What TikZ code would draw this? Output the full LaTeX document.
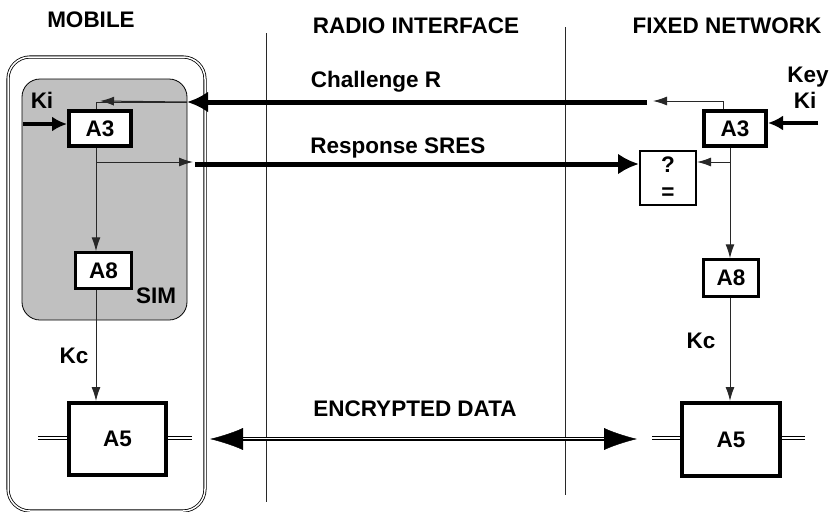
\documentclass[tikz,border=0pt]{standalone}
\usepackage{fontspec}
\setmainfont{Liberation Sans}
\usetikzlibrary{arrows.meta}
\definecolor{simgray}{RGB}{192,192,192}
\definecolor{linegray}{RGB}{40,40,40}

\begin{document}
\begin{tikzpicture}[x=1pt,y=-1pt,
	every node/.style={font=\fontsize{22.5}{27}\selectfont\bfseries},
	label text/.style={anchor=base},
	thickbox/.style={draw,line width=4pt,fill=white,inner sep=0pt},
	thinbox/.style={draw,line width=2.5pt,fill=white,inner sep=0pt},
	thin line/.style={line width=1pt,draw=linegray},
	thin arrow/.style={thin line,-{Latex[length=14pt,width=9pt]}},
	key arrow/.style={line width=4pt,-{Latex[length=15pt,width=15pt]}},
	big arrow/.style={line width=5pt,-{Latex[length=21pt,width=21pt]}},
	data line/.style={double,double distance=2pt,line width=1.2pt},
	data tips/.style={line width=0.4pt,{Latex[length=33pt,width=22pt]}-{Latex[length=33pt,width=22pt]}}]
	\useasboundingbox (0,0) rectangle (831,512);

	% the mobile frame, the SIM and the two interface lines
	\draw[double,double distance=1.5pt,line width=0.8pt,rounded corners=22pt] (8,57) rectangle (205,511);
	\draw[fill=simgray,line width=0.8pt,rounded corners=18pt] (22,79) rectangle (187,320);
	\draw[thin line] (266,33) -- (266,502);
	\draw[thin line] (565,27) -- (565,495);

	% the headings
	\node[label text] at (91,27) {MOBILE};
	\node[label text] at (416,33) {RADIO INTERFACE};
	\node[label text] at (727,33) {FIXED NETWORK};

	% the blocks
	\node[thickbox,minimum width=62pt,minimum height=35pt] (a3L) at (100,128.5) {A3};
	\node[thinbox,minimum width=56pt,minimum height=36pt] (a8L) at (103.5,270.5) {A8};
	\node[thickbox,minimum width=97pt,minimum height=72pt] (a5L) at (117.5,439) {A5};
	\node[thickbox,minimum width=62pt,minimum height=35pt] (a3R) at (735,128.5) {A3};
	\node[thinbox,line width=2pt,minimum width=56pt,minimum height=54pt,align=center] (cmp) at (668,178) {?\\=};
	\node[thinbox,minimum width=55pt,minimum height=37pt] (a8R) at (731,278) {A8};
	\node[thickbox,minimum width=98pt,minimum height=73pt] (a5R) at (731,439.5) {A5};

	% the free ends
	\coordinate (trunkL) at (96,0);
	\coordinate (trunkR) at (730,0);
	\coordinate (kiL) at (23,124);
	\coordinate (kiR) at (818,123);
	\coordinate (chL) at (187,102);
	\coordinate (chR) at (647,102);
	\coordinate (chtipL) at (100,101);
	\coordinate (chtipR) at (653,101);
	\coordinate (rsL) at (193,162);
	\coordinate (rsS) at (195,164);
	\coordinate (datL) at (210,439);
	\coordinate (datR) at (637,439);
	\coordinate (s1) at (38,438);
	\coordinate (s2) at (192,438);
	\coordinate (s3) at (652,438);
	\coordinate (s4) at (805,438);

	% the keys
	\draw[key arrow] (kiL) -- (kiL -| a3L.west);
	\draw[key arrow] (kiR) -- (kiR -| a3R.east);
	\node[label text] at (42,108) {Ki};
	\node[label text] at (808,82) {Key};
	\node[label text] at (805,108) {Ki};

	% the challenge
	\draw[big arrow] (chR) -- (chL);
	\draw[thin arrow] ([xshift=-12pt]a3R.north) |- (chtipR);
	\draw[thin line] (chL) -| ([xshift=-4pt]a3L.north);
	\draw[thin arrow] (chL) -- (chtipL);
	\node[label text] at (376,87) {Challenge R};

	% the response
	\draw[thin arrow] (trunkL |- rsL) -- (rsL);
	\draw[big arrow] (rsS) -- (rsS -| cmp.west);
	\draw[thin arrow] (trunkR |- rsL) -- (rsL -| cmp.east);
	\node[label text] at (398,153) {Response SRES};

	% the key chains
	\draw[thin arrow] (a3L.south -| trunkL) -- (a8L.north -| trunkL);
	\draw[thin arrow] (a8L.south -| trunkL) -- (a5L.north -| trunkL);
	\draw[thin arrow] (a3R.south -| trunkR) -- (a8R.north -| trunkR);
	\draw[thin arrow] (a8R.south -| trunkR) -- (a5R.north -| trunkR);
	\node[label text] at (156,303) {SIM};
	\node[label text] at (74,363) {Kc};
	\node[label text] at (701,348) {Kc};

	% the encrypted data
	\draw[data line] (s1) -- (s1 -| a5L.west);
	\draw[data line] (s2) -- (s2 -| a5L.east);
	\draw[data line] (s3) -- (s3 -| a5R.west);
	\draw[data line] (s4) -- (s4 -| a5R.east);
	\draw[data line,shorten <=28pt,shorten >=28pt] (datL) -- (datR);
	\draw[data tips] (datL) -- (datR);
	\node[label text] at (415,416) {ENCRYPTED DATA};
\end{tikzpicture}
\end{document}
